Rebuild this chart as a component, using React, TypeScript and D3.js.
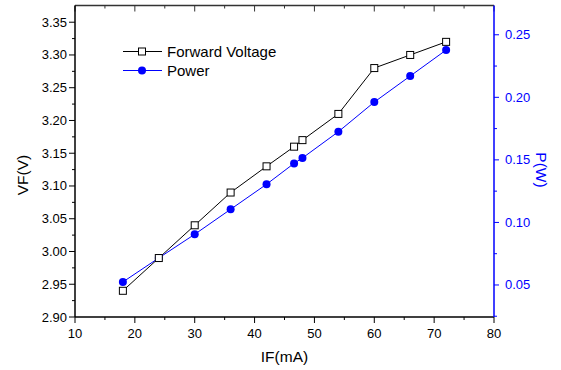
import React from "react";
import * as d3 from "d3";

const currentMA = [18, 24, 30, 36, 42, 46.6, 48, 54, 60, 66, 72];
const forwardVoltage = [2.94, 2.99, 3.04, 3.09, 3.13, 3.16, 3.17, 3.21, 3.28, 3.3, 3.32];
const powerW = [0.0524, 0.0716, 0.0905, 0.1105, 0.1305, 0.1472, 0.1515, 0.1725, 0.1962, 0.217, 0.2378];

const xTicks = [10, 20, 30, 40, 50, 60, 70, 80];
const vTicks = [2.9, 2.95, 3.0, 3.05, 3.1, 3.15, 3.2, 3.25, 3.3, 3.35];
const pTicks = [0.05, 0.1, 0.15, 0.2, 0.25];

const W = 561, H = 370;
const L = 75, R = 494, T = 5.5, B = 317;
const FONT = "Liberation Sans, Arial, sans-serif";
const BLUE = "#0000ff";

export default function App() {
  const x = d3.scaleLinear().domain([10, 80]).range([L, R]);
  const yV = d3.scaleLinear().domain([2.9, 3.3755]).range([B, T]);
  const yP = d3.scaleLinear().domain([0.0244, 0.2734]).range([B, T]);

  const xMinor = d3.range(15, 80, 10);
  const vMinor = d3.range(2.925, 3.37, 0.05);
  const pMinor = d3.range(0.075, 0.27, 0.05).concat([0.025]);

  const lineV = d3.line<number>().x((_, i) => x(currentMA[i])).y((d) => yV(d));
  const lineP = d3.line<number>().x((_, i) => x(currentMA[i])).y((d) => yP(d));

  return (
    <svg width={W} height={H} style={{ display: "block", position: "absolute", left: 0, top: 0, background: "#fff" }} fontFamily={FONT}>
      {/* series */}
      <path d={lineV(forwardVoltage) || ""} fill="none" stroke="#000" strokeWidth={1} />
      <path d={lineP(powerW) || ""} fill="none" stroke={BLUE} strokeWidth={1} />
      {powerW.map((d, i) => (
        <circle key={"p" + i} cx={x(currentMA[i])} cy={yP(d)} r={4} fill={BLUE} />
      ))}
      {forwardVoltage.map((d, i) => (
        <rect key={"v" + i} x={x(currentMA[i]) - 3.5} y={yV(d) - 3.5} width={7} height={7} fill="#fff" stroke="#000" strokeWidth={1} />
      ))}

      {/* top axis */}
      <line x1={L} x2={R} y1={T} y2={T} stroke="#333" strokeWidth={1.5} />
      {xTicks.map((t) => (
        <line key={"tt" + t} x1={x(t)} x2={x(t)} y1={T} y2={T + 6} stroke="#333" strokeWidth={1} />
      ))}
      {xMinor.map((t) => (
        <line key={"tm" + t} x1={x(t)} x2={x(t)} y1={T} y2={T + 3} stroke="#333" strokeWidth={1} />
      ))}

      {/* bottom axis */}
      <line x1={L} x2={R} y1={B} y2={B} stroke="#000" strokeWidth={1.5} />
      {xTicks.map((t) => (
        <g key={"bx" + t}>
          <line x1={x(t)} x2={x(t)} y1={B} y2={B + 6} stroke="#000" strokeWidth={1} />
          <text x={x(t)} y={B + 21} fontSize={13} textAnchor="middle" fill="#000">{t}</text>
        </g>
      ))}
      {xMinor.map((t) => (
        <line key={"bm" + t} x1={x(t)} x2={x(t)} y1={B} y2={B + 3} stroke="#000" strokeWidth={1} />
      ))}
      <text x={(L + R) / 2} y={362} fontSize={15.5} textAnchor="middle" fill="#000">IF(mA)</text>

      {/* left axis */}
      <line x1={L} x2={L} y1={T} y2={B} stroke="#000" strokeWidth={1.5} />
      {vTicks.map((t) => (
        <g key={"lv" + t}>
          <line x1={L - 6} x2={L} y1={yV(t)} y2={yV(t)} stroke="#000" strokeWidth={1} />
          <text x={L - 8} y={yV(t) + 4.5} fontSize={13} textAnchor="end" fill="#000">{t.toFixed(2)}</text>
        </g>
      ))}
      {vMinor.map((t, i) => (
        <line key={"lm" + i} x1={L - 3} x2={L} y1={yV(t)} y2={yV(t)} stroke="#000" strokeWidth={1} />
      ))}
      <text transform={`translate(28,175) rotate(-90)`} fontSize={15.5} textAnchor="middle" fill="#000">VF(V)</text>

      {/* right axis */}
      <line x1={R} x2={R} y1={T} y2={B} stroke={BLUE} strokeWidth={1.5} />
      {pTicks.map((t) => (
        <g key={"rp" + t}>
          <line x1={R} x2={R + 5} y1={yP(t)} y2={yP(t)} stroke={BLUE} strokeWidth={1} />
          <text x={R + 11} y={yP(t) + 4.5} fontSize={13} textAnchor="start" fill={BLUE}>{t.toFixed(2)}</text>
        </g>
      ))}
      {pMinor.map((t, i) => (
        <line key={"rm" + i} x1={R} x2={R + 3} y1={yP(t)} y2={yP(t)} stroke={BLUE} strokeWidth={1} />
      ))}
      <text transform={`translate(536,170) rotate(90)`} fontSize={15.5} textAnchor="middle" fill={BLUE}>P(W)</text>

      {/* legend */}
      <line x1={123} x2={162} y1={51.5} y2={51.5} stroke="#000" strokeWidth={1} />
      <rect x={138.5} y={48} width={7} height={7} fill="#fff" stroke="#000" strokeWidth={1} />
      <text x={167} y={57} fontSize={15} fill="#000">Forward Voltage</text>
      <line x1={123} x2={162} y1={70.5} y2={70.5} stroke={BLUE} strokeWidth={1} />
      <circle cx={142} cy={70.5} r={4} fill={BLUE} />
      <text x={167} y={76} fontSize={15} fill="#000">Power</text>
    </svg>
  );
}
